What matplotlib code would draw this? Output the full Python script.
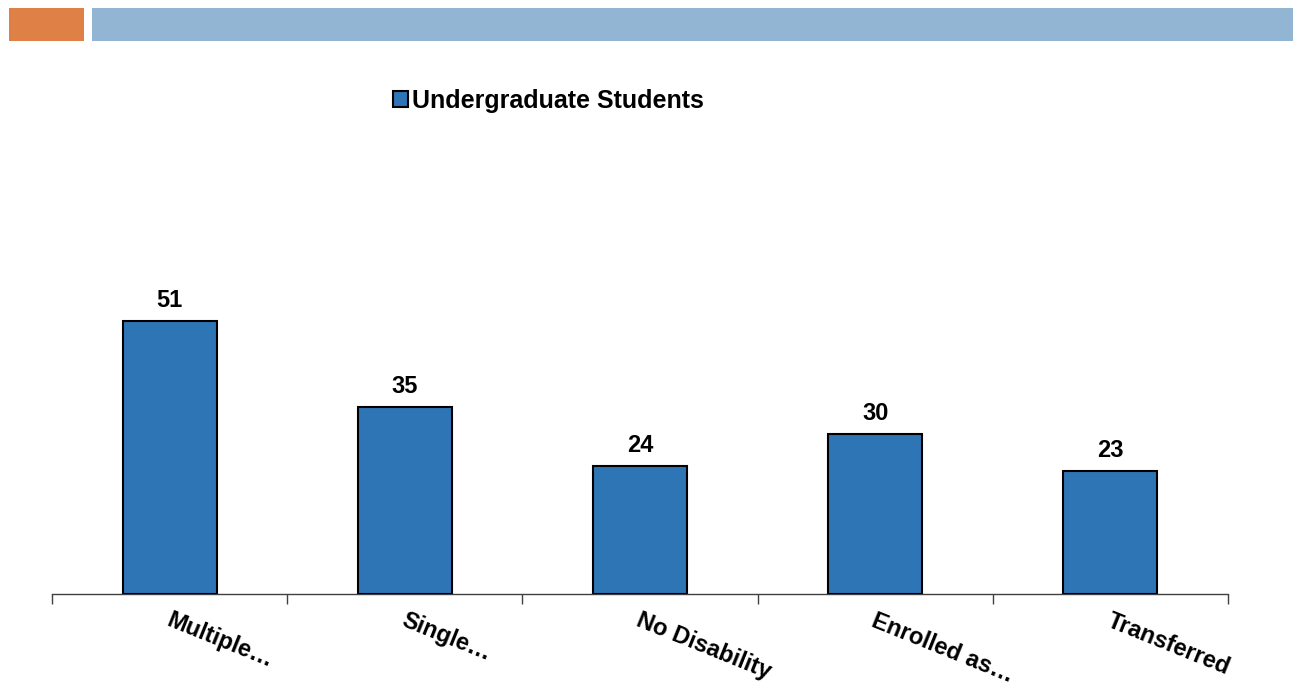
import matplotlib
matplotlib.use("Agg")
import matplotlib.pyplot as plt
from matplotlib.patches import Rectangle

categories = ["Multiple…", "Single…", "No Disability", "Enrolled as…", "Transferred"]
values = [51, 35, 24, 30, 23]
series_name = "Undergraduate Students"

W, H = 1293, 687
fig = plt.figure(figsize=(W / 100, H / 100), dpi=100)
plt.rcParams["font.family"] = ["Liberation Sans", "DejaVu Sans"]

# Header band
fig.add_artist(Rectangle((9 / W, 1 - 41 / H), 75 / W, 33 / H,
                         transform=fig.transFigure, color="#DF8147", lw=0))
fig.add_artist(Rectangle((92 / W, 1 - 41 / H), (W - 92) / W, 33 / H,
                         transform=fig.transFigure, color="#93B5D4", lw=0))

# Plot area: baseline at y=594 px, 60 units over 321 px
ax = fig.add_axes([52 / W, (H - 594) / H, 1176 / W, 321 / H])
x = list(range(len(categories)))
bars = ax.bar(x, values, width=0.40, color="#2E75B6", edgecolor="black",
              linewidth=1.5, label=series_name, zorder=3)
ax.set_xlim(-0.5, len(categories) - 0.5)
ax.set_ylim(0, 60)

for xi, v in zip(x, values):
    ax.annotate(str(v), xy=(xi, v), xycoords="data", xytext=(0, 9),
                textcoords="offset pixels", ha="center", va="bottom",
                fontsize=17, fontweight="bold")

for s in ["top", "right", "left"]:
    ax.spines[s].set_visible(False)
ax.spines["bottom"].set_color("#404040")
ax.spines["bottom"].set_linewidth(1.0)
ax.set_yticks([])

# Category boundary ticks
ax.set_xticks([i - 0.5 for i in range(len(categories) + 1)])
ax.set_xticklabels([])
ax.tick_params(axis="x", direction="out", length=7, color="#404040", width=1.0)

# Rotated category labels
for xi, lab in zip(x, categories):
    ax.annotate(lab, xy=(xi, 0), xycoords="data", xytext=(2, -15),
                textcoords="offset pixels", rotation=-22,
                rotation_mode="anchor", ha="left", va="top",
                fontsize=17, fontweight="bold")

# Legend
fig.legend(handles=[bars], labels=[series_name], loc="center left",
           bbox_to_anchor=(393 / W, 1 - 101 / H), frameon=False,
           borderpad=0, borderaxespad=0,
           prop={"size": 18, "weight": "bold"}, handlelength=0.6,
           handleheight=0.6, handletextpad=0.18)

fig.savefig("out.png", dpi=100, facecolor="white")
